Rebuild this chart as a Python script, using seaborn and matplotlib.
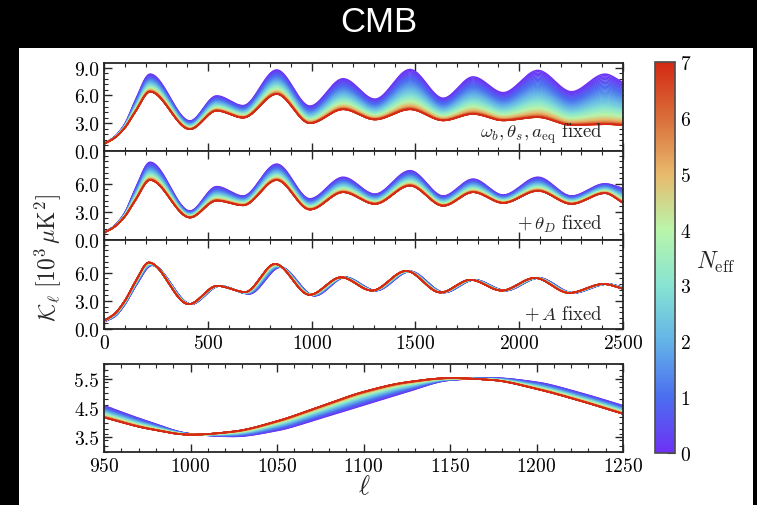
import numpy as np
import pandas as pd
import matplotlib
matplotlib.use("Agg")
import matplotlib.pyplot as plt
import matplotlib.patches as mpatches
from matplotlib.colors import LinearSegmentedColormap
from matplotlib.ticker import MultipleLocator, FormatStrFormatter
import seaborn as sns

# ---------------- data ----------------
# Panels 1 & 2: extrema / knot positions in ell
ell_knots_12 = [2, 50, 100, 150, 222, 414, 543, 670, 832, 992, 1152, 1305,
                1474, 1634, 1778, 1923, 2090, 2252, 2413, 2500]
# Panel 1 (omega_b, theta_s, a_eq fixed): N_eff = 0 and N_eff = 7 curves
p1_neff0 = [0.8, 1.5, 2.9, 5.4, 8.3, 3.25, 5.95, 4.9, 8.75, 4.85, 7.8, 5.6,
            8.8, 5.7, 8.0, 6.3, 8.7, 6.4, 8.3, 7.4]
p1_neff7 = [0.8, 1.4, 2.5, 4.2, 6.4, 2.35, 4.35, 3.6, 6.15, 3.0, 4.5, 3.4,
            4.5, 3.3, 4.0, 3.3, 3.65, 2.8, 2.9, 2.8]
# Panel 2 (+ theta_D fixed)
p2_neff0 = [0.8, 1.5, 2.9, 5.4, 8.3, 3.1, 5.7, 4.7, 8.1, 4.4, 6.7, 4.9,
            7.4, 4.7, 6.5, 4.8, 6.7, 4.7, 6.0, 5.5]
p2_neff7 = [0.8, 1.4, 2.5, 4.2, 6.4, 2.4, 4.2, 3.7, 6.4, 3.25, 5.1, 3.85,
            5.8, 3.65, 5.1, 3.95, 5.25, 3.85, 5.0, 3.95]
# Panel 3 (+ A fixed): curves are mostly phase shifted
p3_ell_neff0 = [2, 50, 100, 150, 232, 420, 558, 700, 850, 1015, 1163, 1310,
                1475, 1640, 1785, 1935, 2095, 2260, 2425, 2500]
p3_neff0 = [0.8, 1.3, 2.6, 4.5, 6.8, 2.65, 4.6, 3.75, 6.6, 3.55, 5.52, 4.1,
            6.15, 3.9, 5.25, 4.1, 5.45, 3.85, 4.8, 4.45]
p3_ell_neff7 = [2, 50, 100, 150, 216, 408, 545, 680, 824, 990, 1142, 1290,
                1455, 1620, 1765, 1915, 2075, 2240, 2405, 2500]
p3_neff7 = [0.9, 1.6, 3.0, 5.0, 7.1, 2.65, 4.6, 3.95, 6.95, 3.65, 5.52, 4.1,
            6.2, 3.9, 5.25, 4.1, 5.45, 3.85, 4.8, 4.3]
# Bottom zoom panel
zoom_ell = [950, 975, 1000, 1025, 1050, 1075, 1100, 1125, 1150, 1175, 1200, 1225, 1250]
zoom_neff0 = [4.58, 4.05, 3.62, 3.53, 3.73, 4.15, 4.60, 5.05, 5.45, 5.52, 5.38, 5.02, 4.58]
zoom_neff7 = [4.18, 3.80, 3.59, 3.70, 4.05, 4.55, 5.05, 5.38, 5.52, 5.45, 5.15, 4.75, 4.30]

neff_levels = np.arange(0, 7.0001, 0.1)
panel_labels = [r"$\omega_b, \theta_s, a_{\rm eq}$ fixed",
                r"$+\,\theta_D$ fixed",
                r"$+\,A$ fixed"]
# colour stops sampled from the reference colour bar (N_eff = 0 ... 7)
cbar_colors = ["#6e32f5", "#4b6ef0", "#64b4e8", "#87e4d2",
               "#b9f5aa", "#e8b96c", "#da6e3a", "#d42a14"]


# ---------------- helpers ----------------
def pchip(xk, yk, x):
    xk = np.asarray(xk, float); yk = np.asarray(yk, float)
    h = np.diff(xk); d = np.diff(yk) / h
    m = np.zeros_like(yk)
    for k in range(1, len(xk) - 1):
        if d[k - 1] * d[k] <= 0:
            m[k] = 0.0
        else:
            w1 = 2 * h[k] + h[k - 1]; w2 = h[k] + 2 * h[k - 1]
            m[k] = (w1 + w2) / (w1 / d[k - 1] + w2 / d[k])
    m[0] = d[0]; m[-1] = d[-1]
    idx = np.clip(np.searchsorted(xk, x) - 1, 0, len(xk) - 2)
    t = (x - xk[idx]) / h[idx]
    h00 = 2 * t**3 - 3 * t**2 + 1; h10 = t**3 - 2 * t**2 + t
    h01 = -2 * t**3 + 3 * t**2; h11 = t**3 - t**2
    return (h00 * yk[idx] + h10 * h[idx] * m[idx] + h01 * yk[idx + 1]
            + h11 * h[idx] * m[idx + 1])


def family(ell, low, high):
    rows = []
    for n in neff_levels:
        frac = 1 - (1 - n / 7.0) ** 2
        rows.append(pd.DataFrame({"ell": ell, "K": low + frac * (high - low), "Neff": n}))
    return pd.concat(rows, ignore_index=True)


ell = np.linspace(2, 2500, 1250)
ellz = np.linspace(950, 1250, 301)
dfs = [
    family(ell, pchip(ell_knots_12, p1_neff0, ell), pchip(ell_knots_12, p1_neff7, ell)),
    family(ell, pchip(ell_knots_12, p2_neff0, ell), pchip(ell_knots_12, p2_neff7, ell)),
    family(ell, pchip(p3_ell_neff0, p3_neff0, ell), pchip(p3_ell_neff7, p3_neff7, ell)),
    family(ellz, pchip(zoom_ell, zoom_neff0, ellz), pchip(zoom_ell, zoom_neff7, ellz)),
]
cmap = LinearSegmentedColormap.from_list("neff", cbar_colors)

# ---------------- styling ----------------
sns.set_style("ticks")
plt.rcParams.update({
    "font.family": "serif",
    "font.serif": ["cmr10", "DejaVu Serif"],
    "mathtext.fontset": "cm",
    "axes.formatter.use_mathtext": True,
    "axes.unicode_minus": False,
    "xtick.direction": "in", "ytick.direction": "in",
    "xtick.top": True, "ytick.right": True,
    "axes.edgecolor": "0.15", "axes.linewidth": 1.3,
})

W, H = 757, 506
fig = plt.figure(figsize=(W / 100, H / 100), dpi=100)
fig.patch.set_facecolor("black")
fig.add_artist(mpatches.Rectangle((19 / W, 0), (753 - 19) / W, (506 - 49) / H,
                                  transform=fig.transFigure, facecolor="white",
                                  edgecolor="none", zorder=0))
fig.text(0.5, 1 - 22 / H, "CMB", color="white", ha="center", va="center",
         fontsize=25, family=["Liberation Sans", "DejaVu Sans"])


def ax_rect(x0, x1, y0, y1):
    return [x0 / W, 1 - y1 / H, (x1 - x0) / W, (y1 - y0) / H]


rects = [ax_rect(104, 623, 64, 152), ax_rect(104, 623, 152, 241),
         ax_rect(104, 623, 241, 330), ax_rect(104, 623, 365, 453)]
axes = [fig.add_axes(r) for r in rects]

for i, (ax, df) in enumerate(zip(axes, dfs)):
    sns.lineplot(data=df, x="ell", y="K", hue="Neff", palette=cmap,
                 hue_norm=(0, 7), estimator=None, sort=False, legend=False,
                 linewidth=1.1, ax=ax)
    ax.set_xlabel(""); ax.set_ylabel("")
    ax.tick_params(which="major", length=6, width=1.0, labelsize=14, colors="0.15",
                   labelcolor="black")
    ax.tick_params(which="minor", length=3, width=0.8, colors="0.15")
    ax.tick_params(top=True, right=True, which="both")
    if i < 3:
        ax.set_xlim(0, 2500)
        ax.set_ylim(0, 9.5)
        ax.xaxis.set_major_locator(MultipleLocator(500))
        ax.xaxis.set_minor_locator(MultipleLocator(100))
        ax.set_yticks([0, 3, 6, 9] if i == 0 else [0, 3, 6])
        ax.yaxis.set_minor_locator(MultipleLocator(0.6))
        ax.yaxis.set_major_formatter(FormatStrFormatter("%.1f"))
        if i < 2:
            ax.tick_params(labelbottom=False)
        ax.text(0.96, 0.07, panel_labels[i], transform=ax.transAxes,
                ha="right", va="bottom", fontsize=13.5)
    else:
        ax.set_xlim(950, 1250)
        ax.set_ylim(3.0, 6.0)
        ax.xaxis.set_major_locator(MultipleLocator(50))
        ax.xaxis.set_minor_locator(MultipleLocator(10))
        ax.set_yticks([3.5, 4.5, 5.5])
        ax.yaxis.set_minor_locator(MultipleLocator(0.2))
        ax.yaxis.set_major_formatter(FormatStrFormatter("%.1f"))

fig.text(48 / W, 1 - 258 / H, r"$\mathcal{K}_\ell\ [10^3\,\mu{\rm K}^2]$",
         rotation=90, ha="center", va="center", fontsize=17)
fig.text(364 / W, 1 - 487 / H, r"$\ell$", ha="center", va="center", fontsize=19)

cax = fig.add_axes(ax_rect(655, 675, 63, 454))
sm = matplotlib.cm.ScalarMappable(cmap=cmap, norm=plt.Normalize(0, 7))
cb = fig.colorbar(sm, cax=cax)
cb.set_ticks(range(8))
cb.ax.yaxis.set_minor_locator(MultipleLocator(0.2))
cb.ax.tick_params(which="major", direction="in", length=6, labelsize=14, colors="0.15",
                  labelcolor="black")
cb.ax.tick_params(which="minor", direction="in", length=3, colors="0.15")
cb.outline.set_linewidth(1.2)
cb.outline.set_edgecolor("0.3")
fig.text(716 / W, 1 - 262 / H, r"$N_{\rm eff}$", ha="center", va="center", fontsize=17)

fig.savefig("out.png", dpi=100, facecolor=fig.get_facecolor())
